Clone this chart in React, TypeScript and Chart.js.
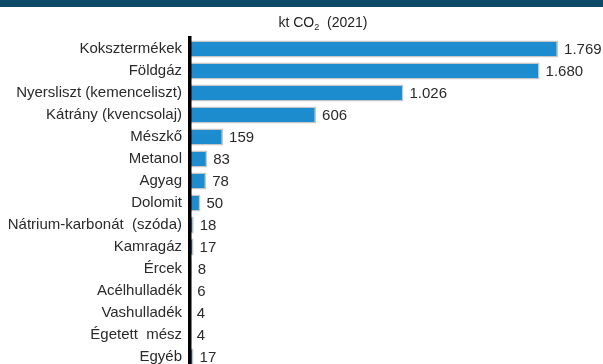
import React, { useEffect, useRef } from 'react';
import { Chart, registerables } from 'chart.js';

Chart.register(...registerables);

const categories = [
  'Koksztermékek',
  'Földgáz',
  'Nyersliszt (kemenceliszt)',
  'Kátrány (kvencsolaj)',
  'Mészkő',
  'Metanol',
  'Agyag',
  'Dolomit',
  'Nátrium-karbonát  (szóda)',
  'Kamragáz',
  'Ércek',
  'Acélhulladék',
  'Vashulladék',
  'Égetett  mész',
  'Egyéb',
];
const values = [1769, 1680, 1026, 606, 159, 83, 78, 50, 18, 17, 8, 6, 4, 4, 17];
const titleMain = 'kt CO';
const titleSub = '2';
const titleRest = '  (2021)';

const FONT = '"Liberation Sans", Arial, sans-serif';

const fmt = (v: number) => String(v).replace(/\B(?=(\d{3})+(?!\d))/g, '.');

const decorPlugin = {
  id: 'decor',
  beforeDraw(chart: any) {
    const { ctx, width } = chart;
    ctx.save();
    ctx.fillStyle = '#ffffff';
    ctx.fillRect(0, 0, width, chart.height);
    ctx.fillStyle = '#0c4a68';
    ctx.fillRect(0, 0, width, 7);
    ctx.fillStyle = '#222';
    ctx.textBaseline = 'alphabetic';
    ctx.font = `14px ${FONT}`;
    const w1 = ctx.measureText(titleMain).width;
    ctx.font = `9px ${FONT}`;
    const w2 = ctx.measureText(titleSub).width;
    ctx.font = `14px ${FONT}`;
    const w3 = ctx.measureText(titleRest).width;
    let x = 323 - (w1 + w2 + w3) / 2;
    const y = 27;
    ctx.textAlign = 'left';
    ctx.fillText(titleMain, x, y);
    x += w1;
    ctx.font = `9px ${FONT}`;
    ctx.fillText(titleSub, x, y + 3);
    x += w2;
    ctx.font = `14px ${FONT}`;
    ctx.fillText(titleRest, x, y);
    ctx.restore();
  },
  afterDatasetsDraw(chart: any) {
    const { ctx } = chart;
    const meta = chart.getDatasetMeta(0);
    ctx.save();
    ctx.fillStyle = '#2a2a2a';
    ctx.font = `15px ${FONT}`;
    ctx.textAlign = 'left';
    ctx.textBaseline = 'middle';
    meta.data.forEach((bar: any, i: number) => {
      ctx.fillText(fmt(values[i]), bar.x + 6, bar.y + 1);
    });
    ctx.restore();
  },
};

export default function App() {
  const ref = useRef<HTMLCanvasElement>(null);
  useEffect(() => {
    document.body.style.margin = '0';
    const chart = new Chart(ref.current!, {
      type: 'bar',
      data: {
        labels: categories,
        datasets: [
          {
            data: values,
            backgroundColor: '#1d8ccf',
            borderColor: '#c6c6c6',
            borderWidth: 1.5,
            categoryPercentage: 1,
            barPercentage: 0.77,
          },
        ],
      },
      options: {
        indexAxis: 'y',
        responsive: false,
        animation: false,
        layout: { padding: { top: 38, bottom: 0, left: 0, right: 0 } },
        plugins: { legend: { display: false }, tooltip: { enabled: false }, title: { display: false } },
        scales: {
          x: { display: false, min: 0, max: 1985 },
          y: {
            afterFit: (s: any) => {
              s.width = 190;
            },
            grid: { display: false, drawTicks: false },
            border: { display: true, color: '#000', width: 3.5, z: 1 },
            ticks: { color: '#2a2a2a', font: { family: FONT, size: 15 }, padding: 8, autoSkip: false },
          },
        },
      },
      plugins: [decorPlugin],
    });
    return () => chart.destroy();
  }, []);
  return (
    <div style={{ width: 603, height: 364, overflow: 'hidden', background: '#fff' }}>
      <canvas ref={ref} width={603} height={385} />
    </div>
  );
}
